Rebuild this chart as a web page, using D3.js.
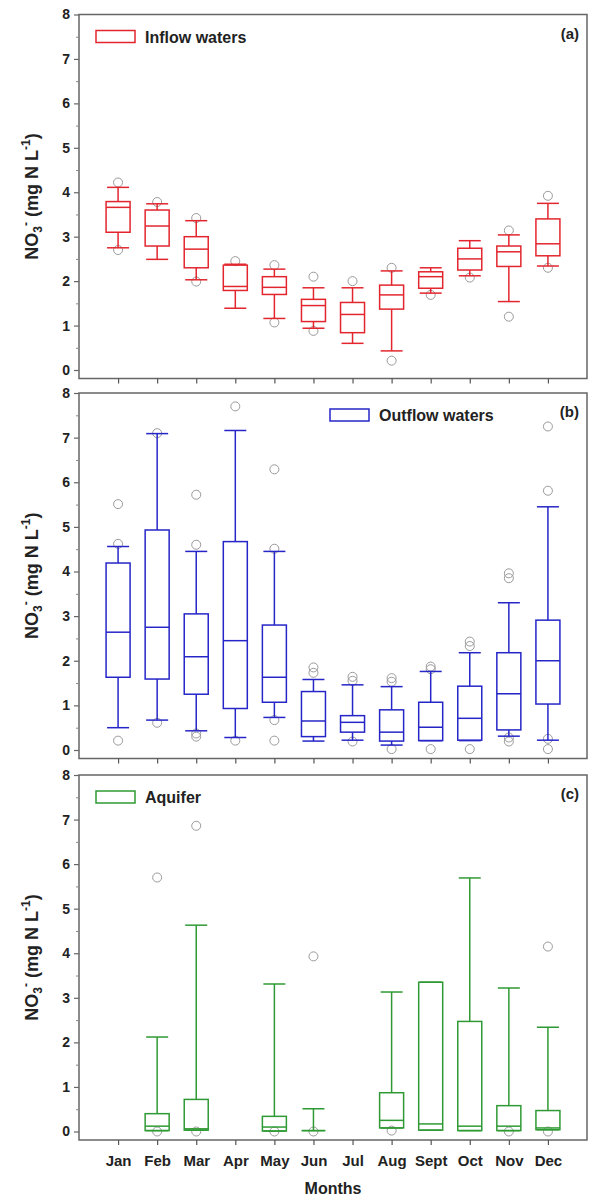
<!DOCTYPE html>
<html>
<head>
<meta charset="utf-8">
<script src="https://cdn.jsdelivr.net/npm/d3@7"></script>
<style>
  body { margin: 0; background: #fff; }
  text { font-family: "Liberation Sans", Arial, sans-serif; font-weight: bold; }
</style>
</head>
<body>
<div id="chart"></div>
<script>
var months = ["Jan", "Feb", "Mar", "Apr", "May", "Jun", "Jul", "Aug", "Sept", "Oct", "Nov", "Dec"];
var yTicks = [0, 1, 2, 3, 4, 5, 6, 7, 8];

// each box: [lower whisker, q1, median, q3, upper whisker], null = no data
var inflowBoxes = [
	[2.75, 3.10, 3.66, 3.79, 4.11],
	[2.49, 2.79, 3.24, 3.60, 3.74],
	[2.03, 2.30, 2.72, 3.00, 3.36],
	[1.39, 1.79, 1.88, 2.36, 2.38],
	[1.16, 1.70, 1.86, 2.10, 2.27],
	[0.94, 1.09, 1.45, 1.59, 1.85],
	[0.60, 0.84, 1.25, 1.52, 1.85],
	[0.43, 1.37, 1.69, 1.91, 2.23],
	[1.73, 1.84, 2.10, 2.21, 2.30],
	[2.12, 2.25, 2.50, 2.74, 2.91],
	[1.54, 2.33, 2.66, 2.79, 3.04],
	[2.34, 2.57, 2.84, 3.40, 3.75]
];
var inflowOutliers = [
	[4.22, 2.70], [3.78], [3.42, 1.99], [2.45], [2.36, 1.07], [2.10, 0.88],
	[2.00], [2.30, 0.21], [1.69], [2.08], [3.14, 1.20], [3.92, 2.30]
];

var outflowBoxes = [
	[0.50, 1.63, 2.64, 4.19, 4.56],
	[0.67, 1.59, 2.75, 4.93, 7.09],
	[0.43, 1.25, 2.09, 3.05, 4.45],
	[0.28, 0.93, 2.45, 4.67, 7.16],
	[0.73, 1.07, 1.63, 2.80, 4.45],
	[0.20, 0.30, 0.65, 1.31, 1.58],
	[0.22, 0.40, 0.62, 0.77, 1.46],
	[0.11, 0.20, 0.40, 0.90, 1.42],
	[0.21, 0.21, 0.51, 1.07, 1.76],
	[0.21, 0.22, 0.71, 1.43, 2.18],
	[0.31, 0.45, 1.26, 2.18, 3.30],
	[0.22, 1.03, 2.00, 2.91, 5.45]
];
var outflowOutliers = [
	[5.51, 4.62, 0.21], [7.10, 0.61], [5.72, 4.60, 0.37, 0.30], [7.70, 0.21],
	[6.29, 4.51, 0.67, 0.21], [1.85, 1.73], [1.64, 1.55, 0.19], [1.61, 1.53, 0.02],
	[1.87, 1.81, 0.02], [2.43, 2.33, 0.02], [3.96, 3.85, 0.28, 0.19], [7.25, 5.81, 0.25, 0.02]
];

var aquiferBoxes = [
	null,
	[0.02, 0.02, 0.12, 0.40, 2.12],
	[0.03, 0.03, 0.06, 0.72, 4.63],
	null,
	[0.01, 0.01, 0.10, 0.34, 3.31],
	[0.02, 0.02, 0.02, 0.02, 0.51],
	null,
	[0.08, 0.08, 0.25, 0.87, 3.13],
	[0.03, 0.03, 0.17, 3.35, 3.35],
	[0.02, 0.02, 0.12, 2.47, 5.69],
	[0.02, 0.02, 0.12, 0.58, 3.22],
	[0.04, 0.04, 0.08, 0.47, 2.34]
];
var aquiferOutliers = [
	[], [5.70, 0.0], [6.86, 0.0], [], [0.0], [3.93, 0.0],
	[], [0.02], [], [], [0.0], [4.15, 0.0]
];

var panels = [
	{ name: "Inflow waters", tag: "(a)", color: "#e3262e", boxes: inflowBoxes, outliers: inflowOutliers,
	  top: 14.5, zero: 370, legendX: 96, labels: false },
	{ name: "Outflow waters", tag: "(b)", color: "#2626c8", boxes: outflowBoxes, outliers: outflowOutliers,
	  top: 393, zero: 750, legendX: 330, labels: false },
	{ name: "Aquifer", tag: "(c)", color: "#2f9a34", boxes: aquiferBoxes, outliers: aquiferOutliers,
	  top: 775, zero: 1131.5, legendX: 96, labels: true }
];

var left = 79, right = 587, boxW = 24, capW = 22;

var svg = d3.select("#chart").append("svg")
	.attr("width", 589)
	.attr("height", 1198);

var x = d3.scalePoint().domain(months).range([left, right]).padding(1);

panels.forEach(function(p)
{
	var bottom = p.zero + 8.5;
	var y = d3.scaleLinear().domain([0, 8]).range([p.zero, p.top]);
	var g = svg.append("g");

	// frame
	g.append("rect")
		.attr("x", left).attr("y", p.top)
		.attr("width", right - left).attr("height", bottom - p.top)
		.attr("fill", "none").attr("stroke", "#666").attr("stroke-width", 1.5);

	// y axis
	var ya = g.append("g")
		.attr("transform", "translate(" + left + ",0)")
		.call(d3.axisLeft(y).tickValues(yTicks).tickSize(5).tickPadding(4).tickFormat(d3.format("d")));
	ya.select(".domain").remove();
	ya.selectAll("line").attr("stroke", "#666").attr("stroke-width", 1.2);
	ya.selectAll("text").attr("font-size", 14).attr("fill", "#222")
		.style("font-family", "'Liberation Sans', Arial, sans-serif").style("font-weight", "bold");

	var ym = g.append("g")
		.attr("transform", "translate(" + left + ",0)")
		.call(d3.axisLeft(y).tickValues(d3.range(0.5, 8, 1)).tickSize(3).tickFormat(""));
	ym.select(".domain").remove();
	ym.selectAll("line").attr("stroke", "#888");

	// x axis
	var xa = g.append("g")
		.attr("transform", "translate(0," + bottom + ")")
		.call(d3.axisBottom(x).tickSize(5).tickPadding(10).tickFormat(p.labels ? null : ""));
	xa.select(".domain").remove();
	xa.selectAll("line").attr("stroke", "#555").attr("stroke-width", 1.2);
	xa.selectAll("text").attr("font-size", 15).attr("fill", "#222")
		.style("font-family", "'Liberation Sans', Arial, sans-serif").style("font-weight", "bold");

	// y title
	var t = g.append("text")
		.attr("transform", "translate(38," + ((p.top + bottom) / 2) + ") rotate(-90)")
		.attr("text-anchor", "middle")
		.attr("font-size", 18)
		.attr("fill", "#222");
	t.append("tspan").text("NO");
	t.append("tspan").attr("font-size", 12).attr("dy", 4).text("3");
	t.append("tspan").attr("font-size", 12).attr("dy", -12).text("-");
	t.append("tspan").attr("dy", 8).text(" (mg N L");
	t.append("tspan").attr("font-size", 12).attr("dy", -8).text("-1");
	t.append("tspan").attr("dy", 8).text(")");

	// legend
	g.append("rect")
		.attr("x", p.legendX).attr("y", p.top + 16)
		.attr("width", 39).attr("height", 12)
		.attr("fill", "#fff").attr("stroke", p.color).attr("stroke-width", 1.5);
	g.append("text")
		.attr("x", p.legendX + 49).attr("y", p.top + 28)
		.attr("font-size", 16).attr("fill", "#222")
		.text(p.name);
	g.append("text")
		.attr("x", 579).attr("y", p.top + 24)
		.attr("text-anchor", "end")
		.attr("font-size", 15).attr("fill", "#222")
		.text(p.tag);

	// outliers
	months.forEach(function(m, i)
	{
		g.selectAll(null)
			.data(p.outliers[i])
			.enter()
			.append("circle")
			.attr("cx", x(m))
			.attr("cy", function(d) { return y(d); })
			.attr("r", 4.5)
			.attr("fill", "none")
			.attr("stroke", "#9a9a9a")
			.attr("stroke-width", 1);
	});

	// boxes
	var data = months.map(function(m, i) { return { m: m, b: p.boxes[i] }; })
		.filter(function(d) { return d.b; });

	var bx = g.selectAll(".box").data(data).enter().append("g")
		.attr("stroke", p.color).attr("stroke-width", 1.5).attr("fill", "none");

	bx.append("line")
		.attr("x1", function(d) { return x(d.m); }).attr("x2", function(d) { return x(d.m); })
		.attr("y1", function(d) { return y(d.b[3]); }).attr("y2", function(d) { return y(d.b[4]); });
	bx.append("line")
		.attr("x1", function(d) { return x(d.m); }).attr("x2", function(d) { return x(d.m); })
		.attr("y1", function(d) { return y(d.b[0]); }).attr("y2", function(d) { return y(d.b[1]); });
	bx.append("line")
		.attr("x1", function(d) { return x(d.m) - capW / 2; }).attr("x2", function(d) { return x(d.m) + capW / 2; })
		.attr("y1", function(d) { return y(d.b[4]); }).attr("y2", function(d) { return y(d.b[4]); });
	bx.append("line")
		.attr("x1", function(d) { return x(d.m) - capW / 2; }).attr("x2", function(d) { return x(d.m) + capW / 2; })
		.attr("y1", function(d) { return y(d.b[0]); }).attr("y2", function(d) { return y(d.b[0]); });
	bx.append("rect")
		.attr("x", function(d) { return x(d.m) - boxW / 2; })
		.attr("y", function(d) { return y(d.b[3]); })
		.attr("width", boxW)
		.attr("height", function(d) { return y(d.b[1]) - y(d.b[3]); });
	bx.append("line")
		.attr("x1", function(d) { return x(d.m) - boxW / 2; }).attr("x2", function(d) { return x(d.m) + boxW / 2; })
		.attr("y1", function(d) { return y(d.b[2]); }).attr("y2", function(d) { return y(d.b[2]); });
});

svg.append("text")
	.attr("x", (left + right) / 2).attr("y", 1194)
	.attr("text-anchor", "middle")
	.attr("font-size", 16).attr("fill", "#222")
	.text("Months");
</script>
</body>
</html>
